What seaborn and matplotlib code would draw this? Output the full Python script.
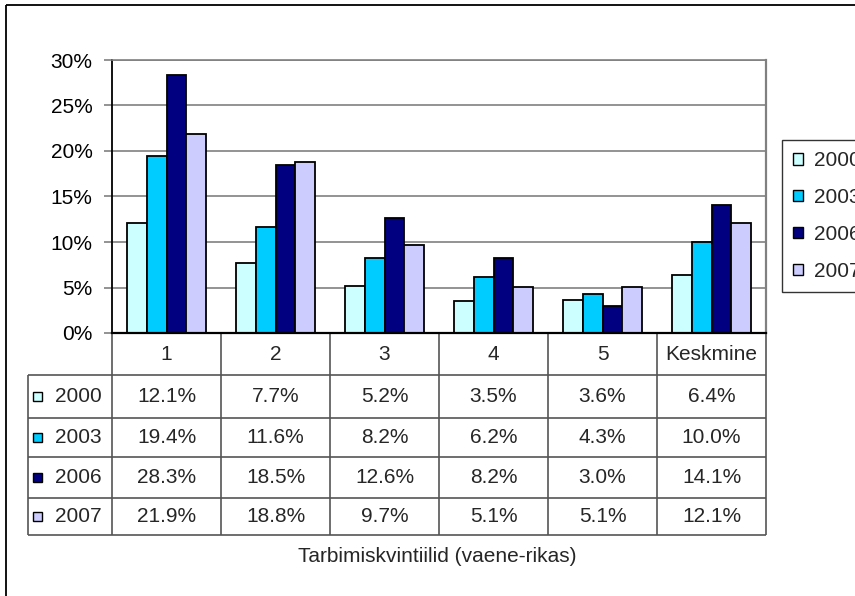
import numpy as np
import pandas as pd
import matplotlib
matplotlib.use("Agg")
import matplotlib.pyplot as plt
import seaborn as sns
from matplotlib.patches import Rectangle
from matplotlib.ticker import FuncFormatter, MultipleLocator

# Share of households per consumption quintile, by survey year (%)
categories = ["1", "2", "3", "4", "5", "Keskmine"]
years = ["2000", "2003", "2006", "2007"]
v2000 = [12.1, 7.7, 5.2, 3.5, 3.6, 6.4]
v2003 = [19.4, 11.6, 8.2, 6.2, 4.3, 10.0]
v2006 = [28.3, 18.5, 12.6, 8.2, 3.0, 14.1]
v2007 = [21.9, 18.8, 9.7, 5.1, 5.1, 12.1]
colors = ["#CCFFFF", "#00CCFF", "#000080", "#CCCCFF"]
xlabel = "Tarbimiskvintiilid (vaene-rikas)"

series = [v2000, v2003, v2006, v2007]
df = pd.DataFrame({
    "cat": categories * len(years),
    "year": np.repeat(years, len(categories)),
    "val": np.concatenate(series) / 100.0,
})

sns.set_theme(style="white")
plt.rcParams["font.family"] = ["Liberation Sans", "DejaVu Sans"]
FS = 15

W, H = 855, 596
fig = plt.figure(figsize=(W / 100, H / 100), dpi=100, facecolor="white")

# full-figure overlay in pixel units (y downwards) for frame, table and labels
over = fig.add_axes([0, 0, 1, 1])
over.set_xlim(0, W)
over.set_ylim(H, 0)
over.axis("off")
over.add_patch(Rectangle((6, 5), W, H, fill=False, edgecolor="black", lw=1.3))

# plot area
L, R, T, B = 112, 766, 60, 333
ax = fig.add_axes([L / W, 1 - B / H, (R - L) / W, (B - T) / H])
sns.barplot(data=df, x="cat", y="val", hue="year", order=categories,
            hue_order=years, palette=colors, saturation=1, width=0.73,
            edgecolor="black", linewidth=1.3, errorbar=None, legend=False,
            ax=ax)
ax.set_xlim(-0.5, len(categories) - 0.5)
ax.set_ylim(0, 0.30)
ax.yaxis.set_major_locator(MultipleLocator(0.05))
ax.yaxis.set_major_formatter(FuncFormatter(lambda y, _: f"{y * 100:.0f}%"))
ax.tick_params(axis="y", length=6, width=1.2, color="#808080", labelsize=FS,
               pad=8, labelcolor="black", left=True)
ax.tick_params(axis="x", length=0, labelbottom=False, bottom=False)
ax.set_xlabel("")
ax.set_ylabel("")
ax.grid(axis="y", color="#808080", lw=1.2)
ax.set_axisbelow(True)
for side, col, lw in [("left", "black", 1.3), ("bottom", "black", 1.6),
                      ("top", "#808080", 1.2), ("right", "#808080", 1.6)]:
    ax.spines[side].set_visible(True)
    ax.spines[side].set_color(col)
    ax.spines[side].set_linewidth(lw)

# data table under the bars
fig.canvas.draw()
edges = np.arange(len(categories) + 1) - 0.5
to_px = ax.transData.transform
col_x = [to_px((e, 0))[0] for e in edges]
tbl_left = 28
row_y = [333, 375, 418, 457, 498, 535]
line_kw = dict(color="#555555", lw=1.2, solid_capstyle="butt")

for x in col_x:
    over.plot([x, x], [row_y[0], row_y[-1]], **line_kw)
over.plot([tbl_left, tbl_left], [row_y[1], row_y[-1]], **line_kw)
for y in row_y[1:]:
    over.plot([tbl_left, col_x[-1]], [y, y], **line_kw)

# header row: category names
hy = (row_y[0] + row_y[1]) / 2
for i, c in enumerate(categories):
    over.text((col_x[i] + col_x[i + 1]) / 2, hy, c, ha="center", va="center",
              fontsize=FS)

# value rows
for r, (yr, vals, colr) in enumerate(zip(years, series, colors)):
    cy = (row_y[r + 1] + row_y[r + 2]) / 2
    over.add_patch(Rectangle((33, cy - 4.5), 9, 9, facecolor=colr,
                             edgecolor="black", lw=1.0))
    over.text(55, cy, yr, ha="left", va="center", fontsize=FS)
    for i, v in enumerate(vals):
        over.text((col_x[i] + col_x[i + 1]) / 2, cy, f"{v:.1f}%",
                  ha="center", va="center", fontsize=FS)

over.text((col_x[0] + col_x[-1]) / 2 - 2, 557, xlabel, ha="center",
          va="center", fontsize=FS)

# legend on the right, running past the figure edge
handles = [Rectangle((0, 0), 1, 1, facecolor=c, edgecolor="black", lw=1.0)
           for c in colors]
leg = fig.legend(handles, years, loc="upper left",
                 bbox_to_anchor=(782 / W, 1 - 140 / H), frameon=True,
                 fancybox=False, fontsize=FS, handlelength=0.45,
                 handleheight=0.45, handletextpad=0.55, labelspacing=0.85,
                 borderpad=0.55, borderaxespad=0)
leg.get_frame().set_edgecolor("black")
leg.get_frame().set_linewidth(1.0)

fig.savefig("out.png", dpi=100, facecolor="white")
